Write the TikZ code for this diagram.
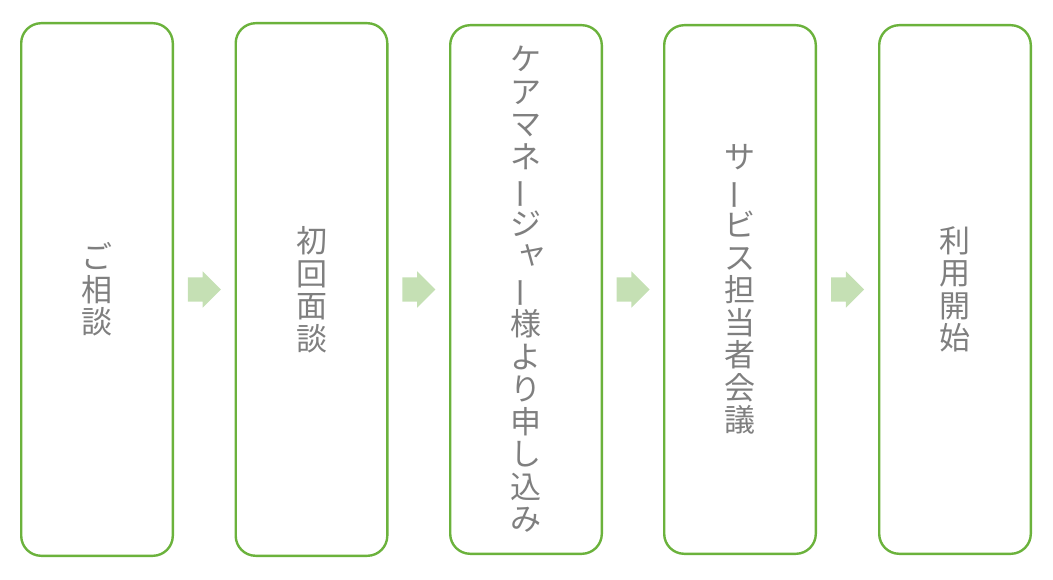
\documentclass[tikz,border=0pt]{standalone}
\usepackage{fontspec}
\newfontfamily\jpfont{Noto Sans CJK JP}
\usetikzlibrary{calc, shapes.arrows}
\definecolor{boxgreen}{RGB}{107,178,60}
\definecolor{arrowgreen}{RGB}{197,224,180}
\definecolor{textgray}{RGB}{127,127,127}
% vertical forms: long vowel mark and small kana
\newcommand{\choon}{\rotatebox[origin=c]{90}{ー}}
\newcommand{\kogaki}[1]{\raisebox{0.12em}{\kern0.2em #1\kern-0.2em}}

\begin{document}
\begin{tikzpicture}[x=1pt, y=-1pt,
    flowbox/.style={draw=boxgreen, line width=2.4pt, rounded corners=20pt,
      minimum width=151.6pt, inner sep=0pt, align=center, text=textgray,
      font=\jpfont\fontsize{31pt}{32.5pt}\selectfont},
    nextarrow/.style={single arrow, fill=arrowgreen, draw=none, inner sep=0pt,
      text height=12pt, text depth=12pt, text width=0pt,
      minimum height=33pt, single arrow head extend=6pt, xshift=-6pt}]
    \useasboundingbox (0,0) rectangle (1053,580);

    % Steps
    \node[flowbox, minimum height=532.6pt] (s1) at (97,289.5) {ご\\相\\談};
    \node[flowbox, minimum height=532.6pt] (s2) at (311.5,289.5) {初\\回\\面\\談};
    \node[flowbox, minimum height=528.6pt] (s3) at (526,289.5)
      {ケ\\ア\\マ\\ネ\\\choon\\ジ\\\kogaki{ャ}\\\choon\\様\\よ\\り\\申\\し\\込\\み};
    \node[flowbox, minimum height=528.6pt] (s4) at (740,289.5)
      {サ\\\choon\\ビ\\ス\\担\\当\\者\\会\\議};
    \node[flowbox, minimum height=528.6pt] (s5) at (955,289.5) {利\\用\\開\\始};

    % Arrows between steps
    \node[nextarrow] (a1) at ($(s1.east)!0.5!(s2.west)$) {};
    \node[nextarrow] (a2) at ($(s2.east)!0.5!(s3.west)$) {};
    \node[nextarrow] (a3) at ($(s3.east)!0.5!(s4.west)$) {};
    \node[nextarrow] (a4) at ($(s4.east)!0.5!(s5.west)$) {};
\end{tikzpicture}
\end{document}
